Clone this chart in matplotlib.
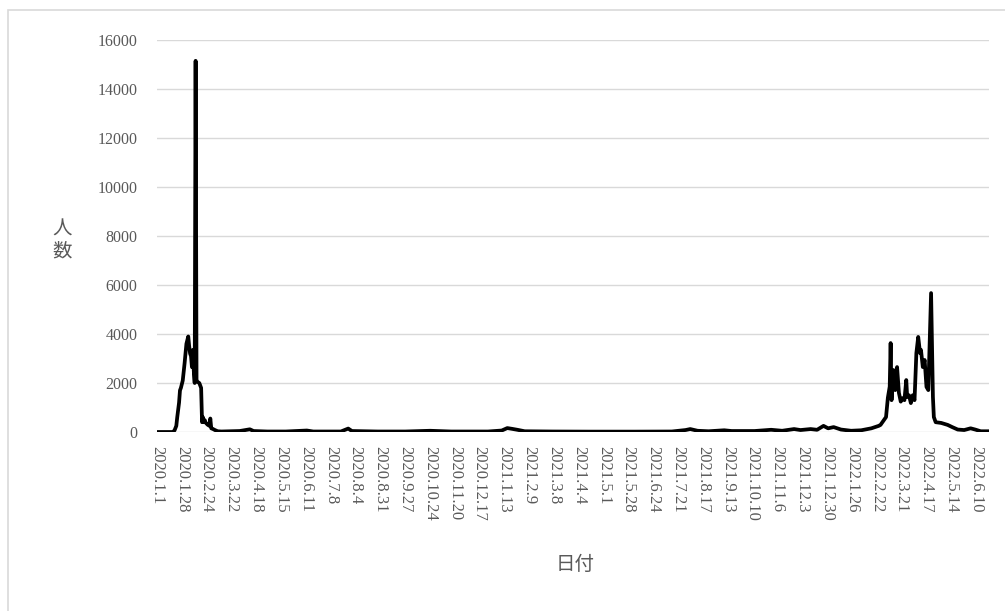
import matplotlib
matplotlib.use("Agg")
import matplotlib.pyplot as plt
from matplotlib.patches import Rectangle

# Day index (days since 2020.1.1) and daily values
days = [0, 17, 19, 21, 22, 24, 25, 26, 28, 30, 32, 34, 35, 36, 37, 38, 39, 40, 41,
        42, 43, 44, 46, 48, 49, 50, 51, 52, 53, 55, 57, 58, 59, 61, 63, 66, 70, 80,
        90, 101, 105, 120, 140, 163, 170, 200, 208, 212, 240, 270, 297, 320, 360,
        375, 381, 386, 392, 400, 430, 470, 520, 560, 575, 580, 588, 600, 617, 625,
        650, 668, 680, 693, 700, 711, 718, 725, 730, 736, 744, 755, 766, 777, 785,
        787, 790, 793, 795, 797, 798, 799, 801, 803, 805, 807, 809, 811, 813, 815,
        816, 818, 820, 822, 824, 826, 828, 830, 831, 833, 835, 837, 839, 842, 844,
        845, 847, 853, 860, 865, 871, 878, 885, 890, 896, 905]
values = [0, 0, 60, 250, 600, 1200, 1700, 1800, 2100, 2800, 3600, 3900, 3500, 3200,
          3100, 2650, 3350, 2500, 2000, 15150, 2100, 2050, 2000, 1800, 400, 600, 400,
          480, 380, 300, 250, 550, 150, 120, 80, 30, 20, 30, 40, 110, 40, 20, 20, 60,
          20, 20, 140, 40, 20, 20, 50, 20, 20, 60, 160, 130, 90, 30, 20, 15, 15, 20,
          80, 120, 50, 30, 70, 40, 40, 90, 50, 120, 80, 120, 90, 250, 150, 200, 100,
          50, 70, 150, 250, 290, 450, 610, 1400, 1850, 3630, 1300, 2530, 1710, 2650,
          1600, 1240, 1380, 1300, 2120, 1430, 1500, 1180, 1500, 1300, 3220, 3880, 3220,
          3350, 2650, 2940, 1840, 1710, 5670, 1430, 610, 400, 370, 290, 200, 100, 80,
          150, 100, 30, 30]

tick_labels = ["2020.1.1", "2020.1.28", "2020.2.24", "2020.3.22", "2020.4.18",
               "2020.5.15", "2020.6.11", "2020.7.8", "2020.8.4", "2020.8.31",
               "2020.9.27", "2020.10.24", "2020.11.20", "2020.12.17", "2021.1.13",
               "2021.2.9", "2021.3.8", "2021.4.4", "2021.5.1", "2021.5.28",
               "2021.6.24", "2021.7.21", "2021.8.17", "2021.9.13", "2021.10.10",
               "2021.11.6", "2021.12.3", "2021.12.30", "2022.1.26", "2022.2.22",
               "2022.3.21", "2022.4.17", "2022.5.14", "2022.6.10"]
tick_step = 27
last_day = 905
y_ticks = list(range(0, 16001, 2000))

W, H = 1005, 611
fig = plt.figure(figsize=(W / 100, H / 100), dpi=100)
fig.patches.append(Rectangle((8 / W, -0.05), 1.1, (H - 10) / H + 0.05,
                             transform=fig.transFigure, fill=False,
                             edgecolor="#d9d9d9", lw=1.2))

ax = fig.add_axes([157 / W, (H - 432) / H, 832 / W, 392 / H])
for s in ax.spines.values():
    s.set_visible(False)
for yv in y_ticks:
    ax.axhline(yv, color="#d9d9d9", lw=1.0, zorder=0)

ax.plot(days, values, color="black", lw=2.7, solid_joinstyle="round", zorder=3)

ax.set_xlim(0, last_day)
ax.set_ylim(0, 16000)
ax.set_yticks(y_ticks)
ax.set_yticklabels([str(v) for v in y_ticks], fontfamily="Liberation Serif",
                   fontsize=11.5, color="#595959")
ax.set_xticks([i * tick_step for i in range(len(tick_labels))])
ax.set_xticklabels(tick_labels, rotation=-90, fontfamily="Liberation Serif",
                   fontsize=12, color="#595959", va="top", ha="center")
ax.tick_params(axis="both", length=0)
ax.tick_params(axis="y", pad=14)
ax.tick_params(axis="x", pad=10)

fig.text(575 / W, 1 - 565 / H, "日付", fontfamily="Noto Sans CJK JP", fontsize=14,
         color="#595959", ha="center", va="center")
fig.text(62 / W, 1 - 240 / H, "人\n数", fontfamily="Noto Sans CJK JP", fontsize=14,
         color="#595959", ha="center", va="center", linespacing=1.0)

fig.savefig("out.png", dpi=100)
